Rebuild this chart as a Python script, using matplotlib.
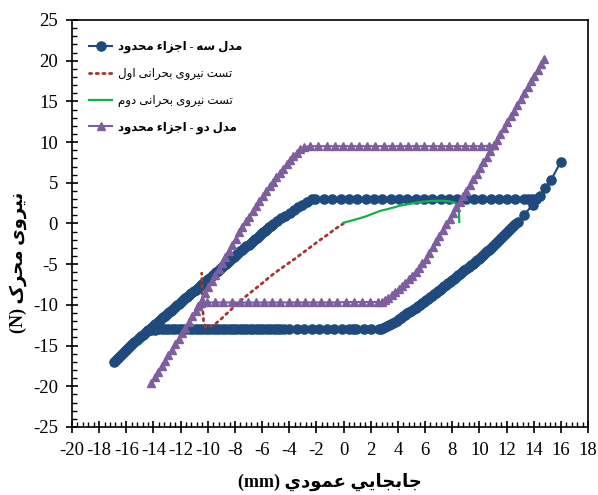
import matplotlib
matplotlib.use("Agg")
import matplotlib.pyplot as plt
from matplotlib.ticker import MultipleLocator

# ---------------- data ----------------
# model 3 (finite element): loading branch (left diagonal, upper plateau, stiffening tail)
m3_load_x = [-16.9, -16.75, -16.6, -16.45, -16.3, -16.15, -16.0, -15.85, -15.7,
             -15.55, -15.4, -15.25, -15.1, -14.95, -14.8, -14.65, -14.5,
             -14.35, -14.2, -14.05, -13.9, -13.75, -13.6, -13.45, -13.3, -13.15,
             -13.0, -12.85, -12.7, -12.55, -12.4, -12.25, -12.1, -11.95, -11.8,
             -11.65, -11.5, -11.35, -11.2, -11.05, -10.9, -10.75, -10.6, -10.45,
             -10.3, -10.15, -10.0, -9.85, -9.7, -9.55, -9.4, -9.25, -9.1, -8.95,
             -8.8, -8.65, -8.5, -8.35, -8.2, -8.05, -7.9, -7.75, -7.6, -7.45,
             -7.3, -7.15, -7.0, -6.85, -6.7, -6.55, -6.4, -6.25, -6.1, -5.95,
             -5.8, -5.65, -5.5, -5.35, -5.2,
             -4.9, -4.6, -4.28, -3.95, -3.67, -3.35, -3.05, -2.68, -2.35,
             -2.07, -1.45, -0.84, -0.22, 0.39, 1.01, 1.62, 2.23, 2.85, 3.46,
             4.07, 4.69, 5.3, 5.91, 6.53, 7.14, 7.75, 8.37, 8.98, 9.59, 10.21,
             10.82, 11.43, 12.05, 12.66, 13.27, 13.6, 13.9, 14.2,
             14.45, 14.85, 15.3, 16.0]
m3_load_y = [-17.0, -16.76, -16.52, -16.28, -16.04, -15.8, -15.56, -15.32, -15.08,
             -14.84, -14.6, -14.36, -14.12, -13.88, -13.64, -13.4, -13.16,
             -13.03, -12.82, -12.6, -12.39, -12.18, -11.96, -11.75, -11.54, -11.33,
             -11.11, -10.9, -10.69, -10.47, -10.26, -10.05, -9.83, -9.62, -9.41,
             -9.2, -8.98, -8.77, -8.56, -8.34, -8.13, -7.92, -7.7, -7.49,
             -7.28, -7.07, -6.85, -6.64, -6.43, -6.21, -6.0, -5.79, -5.57, -5.36,
             -5.15, -4.94, -4.72, -4.51, -4.3, -4.08, -3.87, -3.66, -3.44, -3.23,
             -3.02, -2.81, -2.59, -2.38, -2.17, -1.95, -1.74, -1.53, -1.31, -1.1,
             -0.89, -0.68, -0.46, -0.25, -0.04,
             0.35, 0.62, 0.9, 1.35, 1.7, 2.0, 2.3, 2.7, 2.95,
             3.0, 3.0, 3.0, 3.0, 3.0, 3.0, 3.0, 3.0, 3.0, 3.0,
             3.0, 3.0, 3.0, 3.0, 3.0, 3.0, 3.0, 3.0, 3.0, 3.0, 3.0,
             3.0, 3.0, 3.0, 3.0, 3.0, 3.0, 3.0, 3.0,
             3.4, 4.3, 5.4, 7.6]
# model 3: unloading branch (right curve, lower plateau)
m3_unload_x = [14.2, 13.93, 13.31, 12.82, 12.65, 12.5, 12.35, 12.2, 12.05, 11.9,
               11.75, 11.6, 11.45, 11.3, 11.15, 11.0, 10.85, 10.7, 10.55, 10.4,
               10.25, 10.1, 9.95, 9.8, 9.65, 9.5, 9.35, 9.2, 9.05, 8.9, 8.75,
               8.6, 8.45, 8.3, 8.15, 8.0, 7.85, 7.7, 7.55, 7.4, 7.25, 7.1, 6.95,
               6.8, 6.65, 6.5, 6.35, 6.2, 6.05, 5.9, 5.75, 5.6, 5.45, 5.3, 5.15,
               5.0, 4.85, 4.7, 4.55, 4.4, 4.25, 4.1, 3.95, 3.8, 3.65, 3.5, 3.35,
               3.2, 3.05, 2.9, 2.75, 2.6,
               2.05, 1.5, 0.95, 0.7, 0.4, -0.15, -0.7, -1.25, -1.8, -2.35, -2.9,
               -3.45, -4.0, -4.4,
               -4.65, -4.9, -5.15, -5.4, -5.65, -5.9, -6.15, -6.4, -6.65, -6.9,
               -7.15, -7.4, -7.65, -7.9, -8.15, -8.4, -8.65, -8.9, -9.15, -9.4,
               -9.65, -9.9, -10.15, -10.4, -10.65, -10.9, -11.15, -11.4, -11.65,
               -11.9, -12.15, -12.4, -12.65, -12.9, -13.15, -13.4, -13.65, -13.9,
               -14.15, -14.4]
m3_unload_y = [3.0, 2.3, 1.1, 0.2, -0.05, -0.27, -0.52, -0.78, -1.03, -1.28,
               -1.53, -1.78, -2.02, -2.26, -2.5, -2.74, -2.97, -3.2, -3.43, -3.66,
               -3.88, -4.1, -4.31, -4.52, -4.73, -4.94, -5.15, -5.35, -5.56, -5.76, -5.96,
               -6.16, -6.36, -6.56, -6.76, -6.96, -7.16, -7.35, -7.55, -7.74, -7.93, -8.12, -8.31,
               -8.5, -8.69, -8.88, -9.07, -9.25, -9.44, -9.62, -9.8, -9.98, -10.17, -10.35, -10.53,
               -10.7, -10.88, -11.05, -11.23, -11.4, -11.58, -11.75, -11.93, -12.1, -12.25, -12.4, -12.53,
               -12.65, -12.75, -12.85, -12.93, -13.0,
               -13.0, -13.0, -13.0, -13.0, -13.0, -13.0, -13.0, -13.0, -13.0,
               -13.0, -13.0, -13.0, -13.0, -13.0,
               -13.0, -13.0, -13.0, -13.0, -13.0, -13.0, -13.0, -13.0, -13.0,
               -13.0, -13.0, -13.0, -13.0, -13.0, -13.0, -13.0, -13.0, -13.0,
               -13.0, -13.0, -13.0, -13.0, -13.0, -13.0, -13.0, -13.0, -13.0,
               -13.0, -13.0, -13.0, -13.0, -13.0, -13.0, -13.0, -13.0, -13.0,
               -13.0, -13.05, -13.1, -13.1]

# first critical-force test
t1_x = [0.0, -0.6, -1.2, -1.8, -2.4, -3.0, -3.6, -4.2, -4.8, -5.4, -6.0,
        -6.6, -7.2, -7.8, -8.4, -9.0, -9.5, -9.9, -10.15, -10.3, -10.35,
        -10.4, -10.42, -10.45]
t1_y = [0.0, -0.65, -1.4, -2.1, -2.85, -3.6, -4.35, -5.05, -5.75, -6.5, -7.35,
        -8.15, -8.95, -9.8, -10.75, -11.7, -12.4, -12.7, -12.7, -12.2, -11.0,
        -9.5, -8.0, -6.1]

# second critical-force test
t2_x = [0.0, 0.8, 1.6, 2.7, 3.2, 4.2, 5.0, 5.7, 6.5, 7.2, 7.8, 8.2, 8.45,
        8.5, 8.52]
t2_y = [0.1, 0.45, 0.85, 1.55, 1.75, 2.2, 2.45, 2.65, 2.78, 2.8, 2.72, 2.55,
        2.25, 1.2, 0.2]

# model 2 (finite element): loading branch
m2_load_x = [-14.15, -13.9, -13.65, -13.4, -13.15, -12.9, -12.65, -12.4, -12.15,
             -11.9, -11.65, -11.4, -11.15, -10.9, -10.7, -10.45, -10.2, -9.95,
             -9.7, -9.45, -9.2, -8.95, -8.7, -8.45, -8.2, -7.95, -7.7, -7.45,
             -7.2, -6.95, -6.7, -6.45, -6.2, -5.95, -5.7, -5.45, -5.2, -4.95,
             -4.7, -4.45, -4.2, -3.95, -3.7, -3.45, -3.2, -2.9,
             -2.45, -1.85, -1.25, -0.65, -0.05, 0.55, 1.15, 1.75, 2.35, 2.95,
             3.55, 4.15, 4.75, 5.35, 5.95, 6.55, 7.15, 7.75, 8.35, 8.95, 9.55,
             10.15, 10.7, 11.07,
             11.3, 11.55, 11.8, 12.05, 12.3, 12.55, 12.8, 13.05, 13.3, 13.55,
             13.8, 14.05, 14.3, 14.55, 14.75]
m2_load_y = [-19.6, -18.9, -18.25, -17.55, -16.85, -16.2, -15.5, -14.8, -14.15,
             -13.45, -12.8, -12.1, -11.4, -10.75, -10.1, -9.35, -8.6, -7.85,
             -7.1, -6.35, -5.6, -4.85, -4.1, -3.35, -2.6, -1.85, -1.1, -0.4,
             0.25, 0.85, 1.5, 2.1, 2.75, 3.35, 4.0, 4.6, 5.15, 5.7,
             6.2, 6.75, 7.25, 7.75, 8.25, 8.7, 9.1, 9.4,
             9.5, 9.5, 9.5, 9.5, 9.5, 9.5, 9.5, 9.5, 9.5, 9.5,
             9.5, 9.5, 9.5, 9.5, 9.5, 9.5, 9.5, 9.5, 9.5, 9.5, 9.5,
             9.5, 9.55, 9.64,
             10.3, 11.0, 11.73, 12.44, 13.16, 13.87, 14.59, 15.3, 16.02, 16.73,
             17.45, 18.16, 18.88, 19.59, 20.2]
# model 2: unloading branch
m2_unload_x = [11.07, 10.8, 10.55, 10.3, 10.05, 9.8, 9.55, 9.3, 9.05, 8.8, 8.55,
               8.3, 8.05, 7.8, 7.55, 7.3, 7.05, 6.8, 6.55, 6.3, 6.05, 5.8, 5.55,
               5.3, 5.05, 4.8, 4.55, 4.3, 4.05, 3.8, 3.55, 3.3, 3.05, 2.8,
               2.55, 1.95, 1.35, 0.75, 0.15, -0.45, -1.05, -1.65, -2.25, -2.85,
               -3.45, -4.05, -4.65, -5.25, -5.85, -6.45, -7.05, -7.65, -8.25,
               -8.85, -9.45, -10.05, -10.5, -10.7]
m2_unload_y = [9.64, 8.89, 8.2, 7.51, 6.81, 6.12, 5.43, 4.74, 4.05, 3.35, 2.66,
               1.97, 1.28, 0.58, -0.11, -0.8, -1.49, -2.19, -2.88, -3.65, -4.4,
               -4.9, -5.45, -5.95, -6.4, -6.85, -7.25, -7.65, -8.05, -8.45, -8.8,
               -9.15, -9.45, -9.65,
               -9.65, -9.65, -9.65, -9.65, -9.65, -9.7, -9.7, -9.7, -9.7, -9.7,
               -9.7, -9.7, -9.7, -9.7, -9.7, -9.7, -9.7, -9.7, -9.7,
               -9.7, -9.7, -9.7, -9.75, -10.1]

x_ticks = list(range(-20, 19, 2))
y_ticks = list(range(-25, 26, 5))

# ---------------- Persian text shaping ----------------
# (isolated, final, initial, medial) presentation forms
_FORMS = {
    'ا': (0xFE8D, 0xFE8E, None, None),
    'ء': (0xFE80, None, None, None),
    'ب': (0xFE8F, 0xFE90, 0xFE91, 0xFE92),
    'ت': (0xFE95, 0xFE96, 0xFE97, 0xFE98),
    'ج': (0xFE9D, 0xFE9E, 0xFE9F, 0xFEA0),
    'ح': (0xFEA1, 0xFEA2, 0xFEA3, 0xFEA4),
    'د': (0xFEA9, 0xFEAA, None, None),
    'ر': (0xFEAD, 0xFEAE, None, None),
    'ز': (0xFEAF, 0xFEB0, None, None),
    'س': (0xFEB1, 0xFEB2, 0xFEB3, 0xFEB4),
    'ع': (0xFEC9, 0xFECA, 0xFECB, 0xFECC),
    'ل': (0xFEDD, 0xFEDE, 0xFEDF, 0xFEE0),
    'م': (0xFEE1, 0xFEE2, 0xFEE3, 0xFEE4),
    'ن': (0xFEE5, 0xFEE6, 0xFEE7, 0xFEE8),
    'ه': (0xFEE9, 0xFEEA, 0xFEEB, 0xFEEC),
    'و': (0xFEED, 0xFEEE, None, None),
    'ی': (0xFBFC, 0xFBFD, 0xFBFE, 0xFBFF),
    'ي': (0xFEF1, 0xFEF2, 0xFEF3, 0xFEF4),
    'ک': (0xFB8E, 0xFB8F, 0xFB90, 0xFB91),
}


def _joins_next(ch):
    f = _FORMS.get(ch)
    return f is not None and f[2] is not None


def _joins_prev(ch):
    f = _FORMS.get(ch)
    return f is not None and f[1] is not None


def fa(text):
    """Shape a right-to-left Persian string and return it in visual order."""
    out = []
    n = len(text)
    for i, ch in enumerate(text):
        if ch not in _FORMS:
            out.append(ch)
            continue
        iso, fin, ini, med = _FORMS[ch]
        prev_c = i > 0 and _joins_next(text[i - 1]) and _joins_prev(ch)
        next_c = i < n - 1 and _joins_next(ch) and _joins_prev(text[i + 1])
        if prev_c and next_c:
            code = med
        elif prev_c:
            code = fin
        elif next_c:
            code = ini
        else:
            code = iso
        out.append(chr(code))
    return ''.join(reversed(out))


lbl_m3 = fa('مدل سه - اجزاء محدود')
lbl_t1 = fa('تست نیروی بحرانی اول')
lbl_t2 = fa('تست نیروی بحرانی دوم')
lbl_m2 = fa('مدل دو - اجزاء محدود')
xlabel = '(mm) ' + fa('جابجایي عمودي')
ylabel = '(N) ' + fa('نیروی محرک')

# ---------------- figure ----------------
plt.rcParams['font.family'] = ['Liberation Serif', 'DejaVu Sans']
plt.rcParams['axes.unicode_minus'] = False

fig = plt.figure(figsize=(5.98, 4.95), dpi=100)
ax = fig.add_axes([0.1204, 0.1374, 0.8629, 0.8222])

blue = '#1F4A7E'
purple = '#7D5FA0'
red = '#A3372E'
green = '#12B24A'

ax.plot(m3_load_x, m3_load_y, color=blue, lw=1.5, marker='o', ms=6.6,
        mec=blue, mfc=blue, label=lbl_m3, zorder=3)
ax.plot(m3_unload_x, m3_unload_y, color=blue, lw=1.5, marker='o', ms=6.6,
        mec=blue, mfc=blue, zorder=3)
ax.plot(t1_x, t1_y, color=red, lw=2.0, ls=(0, (0.8, 1.6)),
        dash_capstyle='round', label=lbl_t1, zorder=4)
ax.plot(t2_x, t2_y, color=green, lw=1.6, label=lbl_t2, zorder=4)
ax.plot(m2_load_x, m2_load_y, color=purple, lw=1.5, marker='^', ms=6.0,
        mec=purple, mfc=purple, label=lbl_m2, zorder=5)
ax.plot(m2_unload_x, m2_unload_y, color=purple, lw=1.5, marker='^', ms=6.0,
        mec=purple, mfc=purple, zorder=5)

ax.set_xlim(-20, 18)
ax.set_ylim(-25, 25)
ax.set_xticks(x_ticks)
ax.set_yticks(y_ticks)
ax.xaxis.set_minor_locator(MultipleLocator(0.4))
ax.yaxis.set_minor_locator(MultipleLocator(1))
ax.tick_params(axis='both', which='major', direction='inout', length=8,
               width=1.2, labelsize=13.5, top=False, right=False)
ax.tick_params(axis='x', which='major', pad=7)
ax.tick_params(axis='y', which='major', pad=6)
ax.tick_params(axis='both', which='minor', direction='in', length=3.5,
               width=1.0, top=False, right=False)
for s in ax.spines.values():
    s.set_linewidth(1.2)
    s.set_color('black')

ax.set_xlabel(xlabel, fontsize=13, fontweight='bold', labelpad=10)
ax.set_ylabel(ylabel, fontsize=13, fontweight='bold')
ax.yaxis.set_label_coords(-0.088, 0.405)

leg = ax.legend(loc='upper left', bbox_to_anchor=(0.012, 0.975), frameon=False,
                fontsize=8.5, handlelength=2.0, handletextpad=0.5,
                labelspacing=1.25, numpoints=1)
for i in (0, 3):
    leg.get_texts()[i].set_fontweight('bold')

fig.savefig('out.png', dpi=100)
